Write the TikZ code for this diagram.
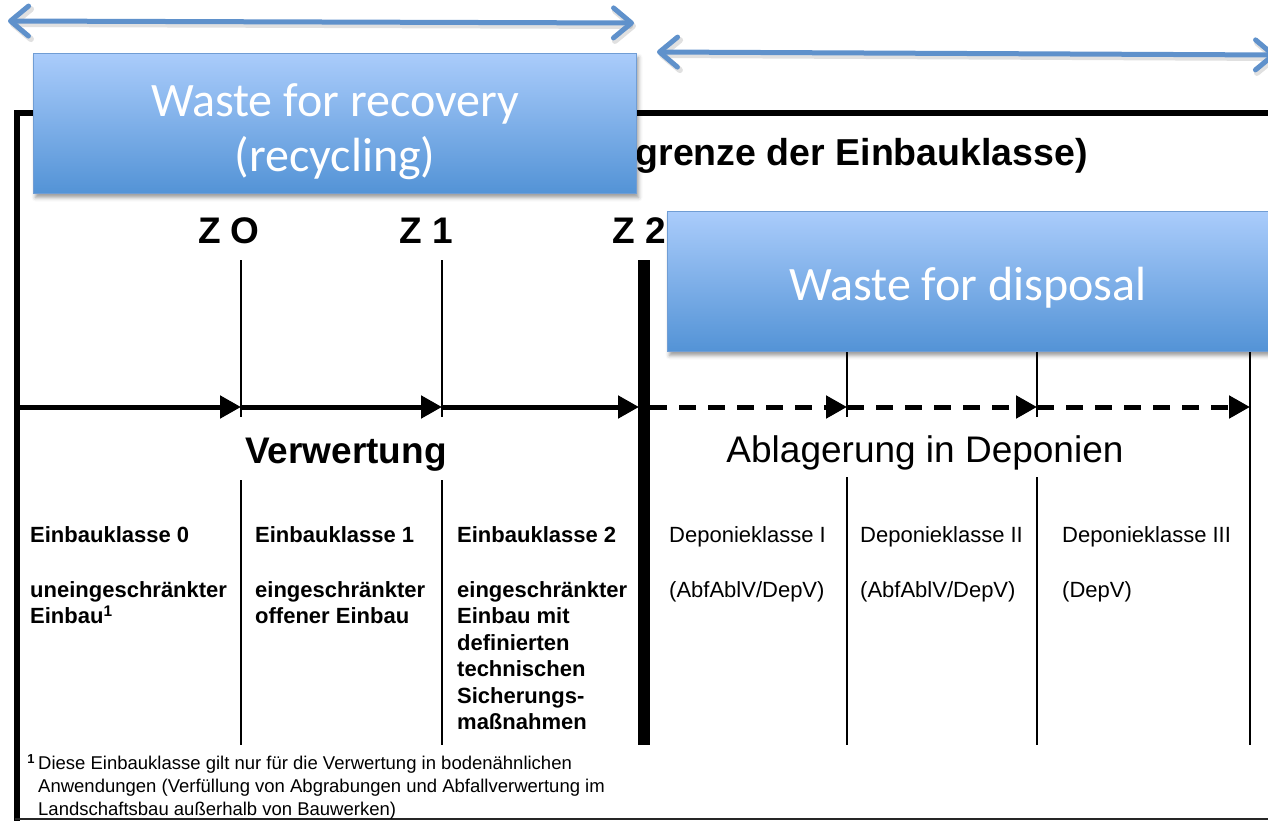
\documentclass[tikz,border=0pt]{standalone}
\usepackage{fontspec}
\setmainfont{Liberation Sans}
\newfontfamily\calibri{Carlito}
\usetikzlibrary{arrows.meta,shadows.blur}

\definecolor{arrowblue}{RGB}{95,145,203}
\definecolor{boxtop}{RGB}{170,204,251}
\definecolor{boxbottom}{RGB}{83,147,214}
\definecolor{boxedge}{RGB}{112,157,212}

\tikzset{
  wastebox/.style={draw=boxedge, line width=1pt, top color=boxtop, bottom color=boxbottom,
    inner sep=0pt, anchor=north west,
    blur shadow={shadow xshift=2pt, shadow yshift=-4pt, shadow blur radius=4pt}},
  wastetext/.style={text=white, font=\calibri\fontsize{48}{55}\selectfont, inner sep=0pt, anchor=base},
  spanarrow/.style={draw=arrowblue, line width=5pt, line cap=round,
    {Straight Barb[length=18pt,width=30pt,round]}-{Straight Barb[length=18pt,width=30pt,round]}},
  spanshadow/.style={spanarrow, draw=black, opacity=.12, line width=6pt},
  frameline/.style={line width=6pt},
  flow/.style={line width=5pt, -{Triangle[length=21pt,width=22pt]}},
  flowdash/.style={flow, dash pattern=on 17pt off 12pt},
  divider/.style={line width=1.5pt},
  zbar/.style={line width=12pt},
  zlab/.style={font=\bfseries\fontsize{37}{40}\selectfont, inner sep=0pt, anchor=base east},
  heading/.style={font=\fontsize{37}{40}\selectfont, inner sep=0pt, anchor=base},
  column/.style={font=\fontsize{22}{26.5}\selectfont, inner sep=0pt, anchor=north west, align=left},
}

\begin{document}
\begin{tikzpicture}[x=1pt,y=-1pt]
\useasboundingbox (0,0) rectangle (1268,821);
\clip (0,0) rectangle (1268,821);

% frame of the table
\draw[frameline] (17,821) -- (17,113.5) -- (1272,113.5);
\draw[line width=2pt, black!85] (15,819) -- (1272,819);

% heading row (left part hidden under the recovery box)
\node[font=\bfseries\fontsize{37.5}{40}\selectfont, inner sep=0pt, anchor=base east] (title) at (1088,166) {grenze der Einbauklasse)};

% limit values
\node[zlab] (z0) at (260,243) {Z O};
\node[zlab] (z1) at (453,243) {Z 1};
\node[zlab] (z2) at (666,243) {Z 2};

% column dividers
\foreach \x in {241,442} {
  \draw[divider] (\x,260) -- (\x,417);
  \draw[divider] (\x,480) -- (\x,745);
}
\foreach \x in {847,1037} {
  \draw[divider] (\x,351) -- (\x,417);
  \draw[divider] (\x,477) -- (\x,745);
}
\draw[divider] (1250,351) -- (1250,745);
\draw[zbar] (644,260) -- (644,745);

% flow arrows
\coordinate (f0) at (18,407);
\coordinate (f1) at (241,407);
\coordinate (f2) at (442,407);
\coordinate (f3) at (639,407);
\coordinate (f3b) at (650,407);
\coordinate (f4) at (847,407);
\coordinate (f5) at (1037,407);
\coordinate (f6) at (1250,407);
\draw[flow] (f0) -- (f1);
\draw[flow] (f1) -- (f2);
\draw[flow] (f2) -- (f3);
\draw[flowdash] (f3b) -- (f4);
\draw[flowdash] (f4) -- (f5);
\draw[flowdash] (f5) -- (f6);

% section headings
\node[heading, font=\bfseries\fontsize{37}{40}\selectfont] (verw) at (346,463) {Verwertung};
\node[heading] (abl) at (925,462) {Ablagerung in Deponien};

% classes
\node[column, font=\bfseries\fontsize{22}{26.5}\selectfont] (k0) at (30,526)
  {Einbauklasse 0\\[28.5pt]uneingeschränkter\\Einbau\textsuperscript{1}};
\node[column, font=\bfseries\fontsize{22}{26.5}\selectfont] (k1) at (255,526)
  {Einbauklasse 1\\[28.5pt]eingeschränkter\\offener Einbau};
\node[column, font=\bfseries\fontsize{22}{26.5}\selectfont] (k2) at (457,526)
  {Einbauklasse 2\\[28.5pt]eingeschränkter\\Einbau mit\\definierten\\technischen\\Sicherungs-\\maßnahmen};
\node[column] (d1) at (669,526) {Deponieklasse I\\[28.5pt](AbfAblV/DepV)};
\node[column] (d2) at (860,526) {Deponieklasse II\\[28.5pt](AbfAblV/DepV)};
\node[column] (d3) at (1062,526) {Deponieklasse III\\[28.5pt](DepV)};

% footnote
\node[inner sep=0pt, anchor=north west, align=left, font=\fontsize{18.5}{23}\selectfont] (fn) at (38,754.5)
  {\llap{\textbf{\textsuperscript{1}}\,}Diese Einbauklasse gilt nur für die Verwertung in bodenähnlichen\\
   Anwendungen (Verfüllung von Abgrabungen und Abfallverwertung im\\
   Landschaftsbau außerhalb von Bauwerken)};

% overlay boxes
\node[wastebox, minimum width=603pt, minimum height=140pt] (recbox) at (33,53) {};
\node[wastetext] (rect1) at (335,117) {Waste for recovery};
\node[wastetext] (rect2) at (335,172) {(recycling)};
\node[wastebox, minimum width=620pt, minimum height=140pt] (disbox) at (667,211) {};
\node[wastetext] (dist) at (968,300) {Waste for disposal};

% range arrows
\coordinate (ra) at (8,21);
\coordinate (rb) at (634,23);
\coordinate (da) at (657,52);
\coordinate (db) at (1276,55);
\draw[spanshadow] ([shift={(2,3)}]ra) -- ([shift={(2,3)}]rb);
\draw[spanshadow] ([shift={(2,3)}]da) -- ([shift={(2,3)}]db);
\draw[spanarrow] (ra) -- (rb);
\draw[spanarrow] (da) -- (db);
\end{tikzpicture}
\end{document}
